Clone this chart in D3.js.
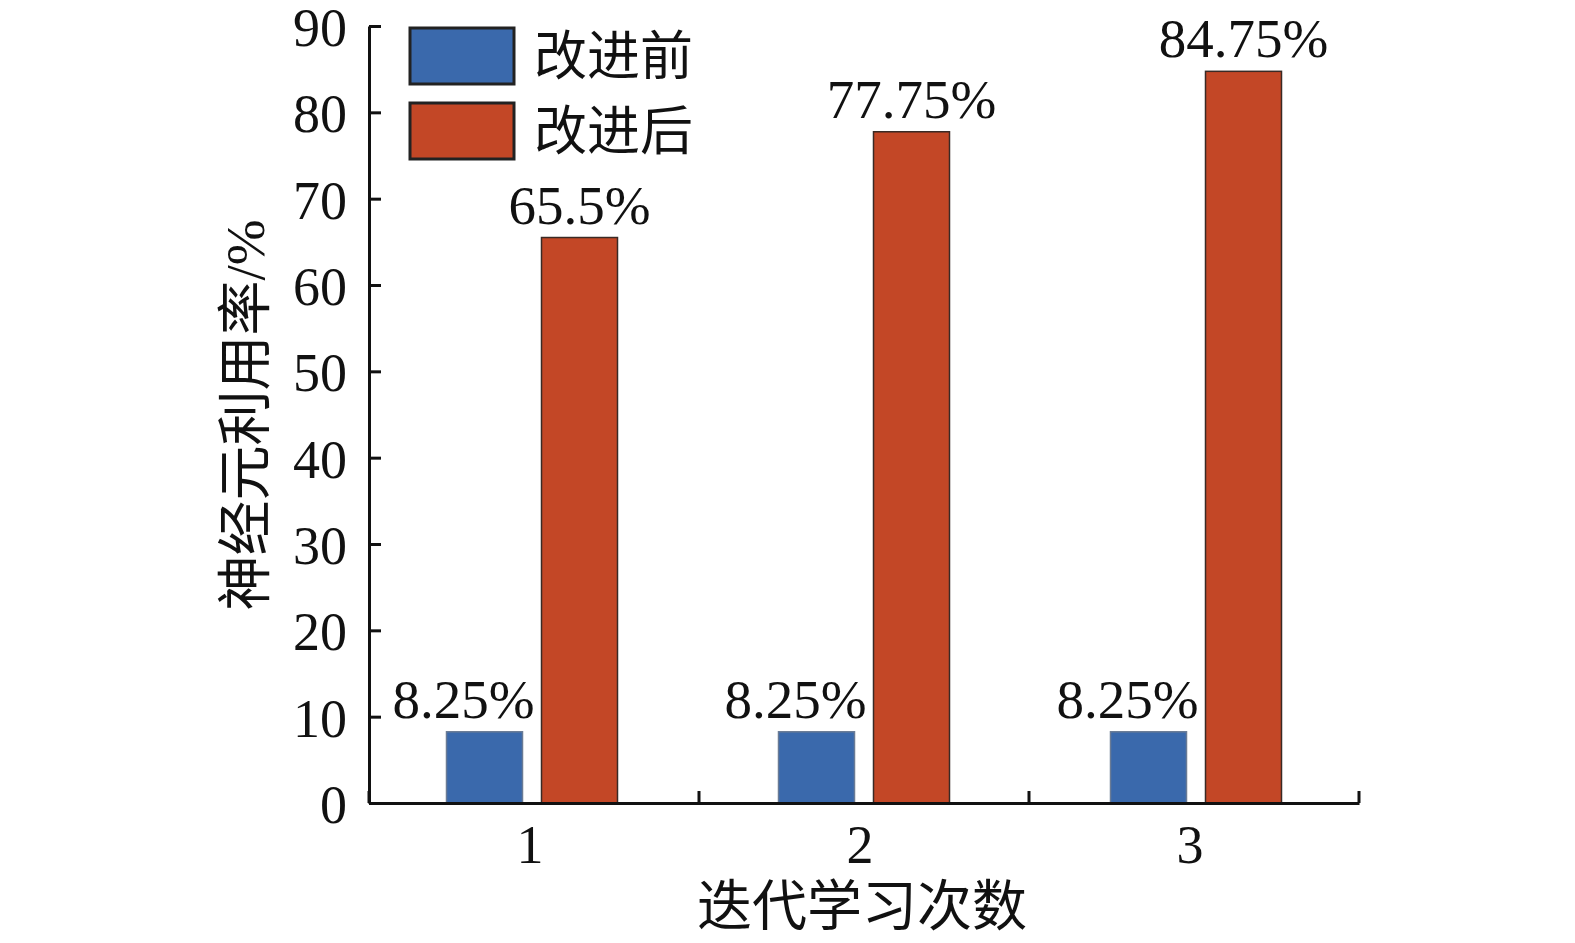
<!DOCTYPE html>
<html><head><meta charset="utf-8">
<script src="https://cdn.jsdelivr.net/npm/d3@7"></script>
<style>body{margin:0;background:#fff}</style>
</head><body>
<svg id="c" width="1575" height="943"></svg>
<script>
const categories = ["1","2","3"];
const seriesNames = ["改进前","改进后"];
const before = [8.25, 8.25, 8.25];
const after = [65.5, 77.75, 84.75];
const beforeLabels = ["8.25%","8.25%","8.25%"];
const afterLabels = ["65.5%","77.75%","84.75%"];
const yTicks = [0,10,20,30,40,50,60,70,80,90];
const colors = ["#3A69AC","#C34726"];

const svg = d3.select("#c");
const latin = "'Liberation Serif','Times New Roman',serif";
const cjk = "'Liberation Serif','Noto Sans CJK SC',serif";
const L = 369, R = 1359, T = 26, B = 803;

const y = d3.scaleLinear().domain([0,90]).range([B,T]);
const x0 = d3.scaleBand().domain(categories).range([L,R]).padding(0);
const x1 = d3.scaleBand().domain(seriesNames).range([0,171]).paddingInner(0.2);
const off = (x0.bandwidth()-171)/2 - 2;

const data = categories.map((c,i)=>({c, vals:[
  {s:seriesNames[0], v:before[i], lab:beforeLabels[i], k:0},
  {s:seriesNames[1], v:after[i], lab:afterLabels[i], k:1}]}));

const g = svg.append("g");
const grp = g.selectAll(".grp").data(data).join("g")
  .attr("transform", d=>`translate(${x0(d.c)+off+(+d.c-1)*2},0)`);
grp.selectAll("rect").data(d=>d.vals).join("rect")
  .attr("x", d=>x1(d.s)).attr("width", x1.bandwidth())
  .attr("y", d=>y(d.v)).attr("height", d=>y(0)-y(d.v))
  .attr("fill", d=>colors[d.k])
  .attr("stroke", d=>d.k===0?"#6a7b95":"#3a2a25").attr("stroke-width",1.5);
grp.selectAll("text").data(d=>d.vals).join("text")
  .attr("x", d=>x1(d.s)+x1.bandwidth()/2 + (d.k===0?-21:0))
  .attr("y", d=>y(d.v)-14)
  .attr("text-anchor","middle")
  .attr("font-family", latin).attr("font-size", 55).attr("fill","#111")
  .text(d=>d.lab);

// Y axis
const ya = svg.append("g").attr("transform",`translate(${L},0)`)
  .call(d3.axisLeft(y).tickValues(yTicks).tickSize(-12).tickSizeOuter(0).tickPadding(22));
ya.select(".domain").attr("stroke","#111").attr("stroke-width",3);
ya.selectAll(".tick line").attr("stroke","#111").attr("stroke-width",3);
ya.selectAll(".tick text").attr("font-family",latin).attr("font-size",54).attr("fill","#111")
  .attr("dy","0.36em");

// X axis
const xa = svg.append("g").attr("transform",`translate(0,${B})`)
  .call(d3.axisBottom(x0).tickSize(0).tickSizeOuter(0).tickPadding(22));
xa.select(".domain").attr("stroke","#111").attr("stroke-width",3);
xa.selectAll(".tick text").attr("font-family",latin).attr("font-size",54).attr("fill","#111")
  .attr("transform","translate(-4,0)");
const bounds = categories.map(c=>x0(c)).concat([x0(categories[categories.length-1])+x0.step()]);
xa.selectAll(".bt").data(bounds).join("line").attr("class","bt")
  .attr("x1",d=>d).attr("x2",d=>d).attr("y1",0).attr("y2",-12)
  .attr("stroke","#111").attr("stroke-width",3);

// Axis titles
svg.append("text").attr("x",862).attr("y",925).attr("text-anchor","middle")
  .attr("font-family",cjk).attr("font-size",55).attr("fill","#111").text("迭代学习次数");
svg.append("text").attr("transform","translate(264,415) rotate(-90)").attr("text-anchor","middle")
  .attr("font-family",cjk).attr("font-size",55).attr("fill","#111").text("神经元利用率/%");

// Legend
const leg = svg.append("g").attr("transform","translate(410,28)");
const li = leg.selectAll("g").data(seriesNames).join("g")
  .attr("transform",(d,i)=>`translate(0,${i*75})`);
li.append("rect").attr("width",104).attr("height",56)
  .attr("fill",(d,i)=>colors[i]).attr("stroke","#222").attr("stroke-width",3);
li.append("text").attr("x",124).attr("y",28).attr("dy","0.36em")
  .attr("font-family",cjk).attr("font-size",53).attr("fill","#111").text(d=>d);
</script>
</body></html>
